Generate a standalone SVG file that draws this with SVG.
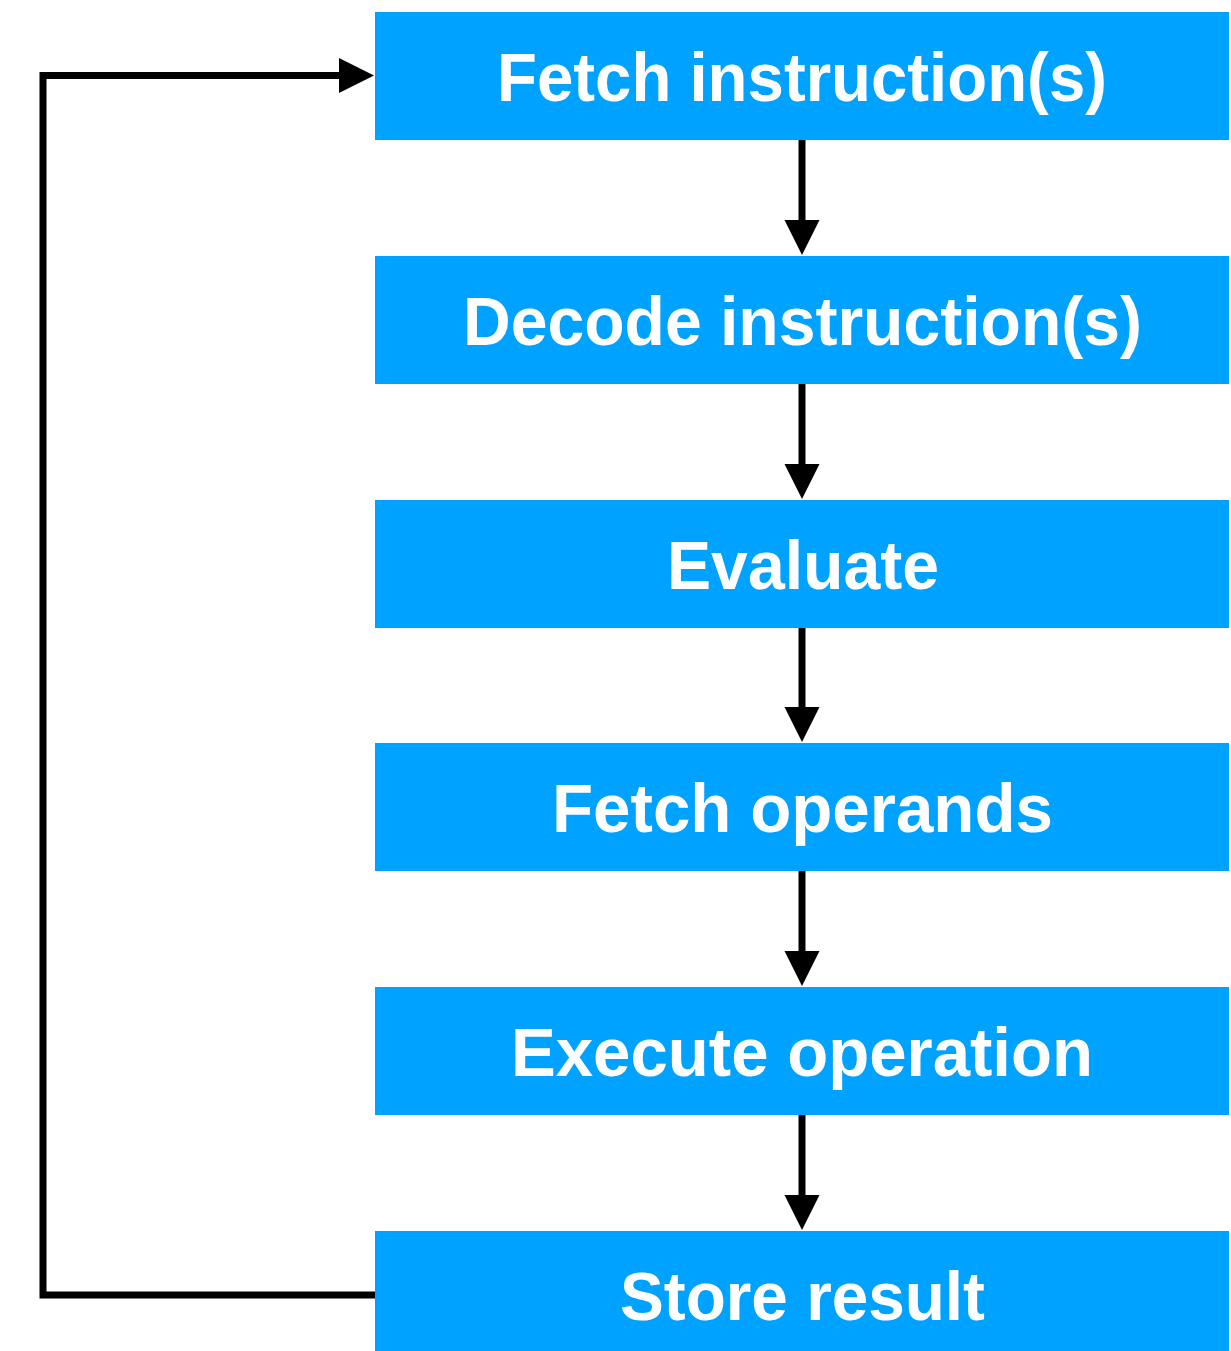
<svg xmlns="http://www.w3.org/2000/svg" width="1231" height="1351" viewBox="0 0 1231 1351">
  <style>
    .box { fill: #00A2FF; }
    .lbl { fill: #FFFFFF; font-family: "Liberation Sans", Arial, sans-serif; font-size: 68px; font-weight: bold; text-anchor: middle; }
    .edge { fill: none; stroke: #000000; stroke-width: 7; }
  </style>
  <defs>
    <marker id="arrow" markerUnits="userSpaceOnUse" markerWidth="36" markerHeight="36" refX="0" refY="17.5" orient="auto" overflow="visible">
      <path d="M0,0 L35,17.5 L0,35 Z" fill="#000000"/>
    </marker>
  </defs>
  <rect width="1231" height="1351" fill="#FFFFFF"/>
  <g id="connectors">
    <line class="edge" x1="802" y1="140" x2="802" y2="220" marker-end="url(#arrow)"/>
    <line class="edge" x1="802" y1="384" x2="802" y2="464" marker-end="url(#arrow)"/>
    <line class="edge" x1="802" y1="628" x2="802" y2="707" marker-end="url(#arrow)"/>
    <line class="edge" x1="802" y1="871" x2="802" y2="951" marker-end="url(#arrow)"/>
    <line class="edge" x1="802" y1="1115" x2="802" y2="1195" marker-end="url(#arrow)"/>
    <path class="edge" d="M375,1295 L43,1295 L43,75.5 L339,75.5" marker-end="url(#arrow)"/>
  </g>
  <g id="node-fetch-instructions">
    <rect class="box" x="375" y="12" width="854" height="128"/>
    <text class="lbl" x="802" y="101" textLength="610" lengthAdjust="spacingAndGlyphs">Fetch instruction(s)</text>
  </g>
  <g id="node-decode-instructions">
    <rect class="box" x="375" y="256" width="854" height="128"/>
    <text class="lbl" x="802.5" y="345" textLength="679" lengthAdjust="spacingAndGlyphs">Decode instruction(s)</text>
  </g>
  <g id="node-evaluate">
    <rect class="box" x="375" y="500" width="854" height="128"/>
    <text class="lbl" x="803" y="589" textLength="272" lengthAdjust="spacingAndGlyphs">Evaluate</text>
  </g>
  <g id="node-fetch-operands">
    <rect class="box" x="375" y="743" width="854" height="128"/>
    <text class="lbl" x="802.5" y="832" textLength="501" lengthAdjust="spacingAndGlyphs">Fetch operands</text>
  </g>
  <g id="node-execute-operation">
    <rect class="box" x="375" y="987" width="854" height="128"/>
    <text class="lbl" x="802" y="1076" textLength="582" lengthAdjust="spacingAndGlyphs">Execute operation</text>
  </g>
  <g id="node-store-result">
    <rect class="box" x="375" y="1231" width="854" height="120"/>
    <text class="lbl" x="802.5" y="1320" textLength="365" lengthAdjust="spacingAndGlyphs">Store result</text>
  </g>
</svg>
